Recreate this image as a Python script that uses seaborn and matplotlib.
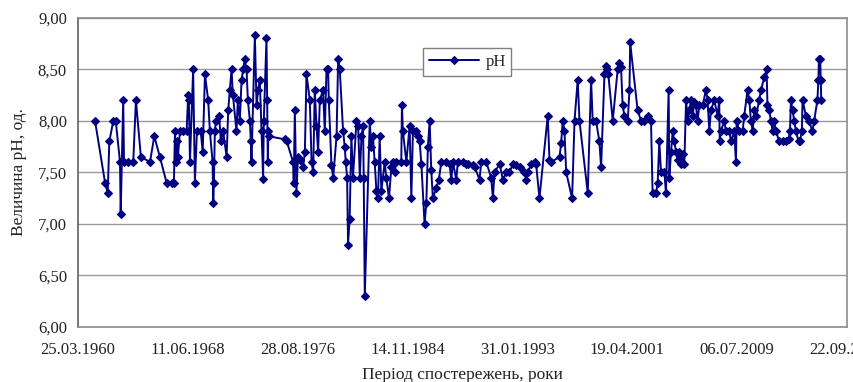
import matplotlib
matplotlib.use("Agg")
import matplotlib.pyplot as plt
import matplotlib.dates as mdates
import seaborn as sns
import pandas as pd
import numpy as np

# ---- data (decimal year of observation, pH value) ----
years = [
    1961.50, 1962.25, 1962.45, 1962.57, 1962.87, 1963.05, 1963.37, 1963.42, 1963.61, 1963.67,
    1963.99, 1964.36, 1964.56, 1964.93, 1965.61, 1965.93, 1966.35, 1966.85, 1967.23, 1967.40,
    1967.48, 1967.55, 1967.63, 1967.70, 1967.85, 1968.07, 1968.35, 1968.47, 1968.52, 1968.60,
    1968.84, 1968.97, 1969.12, 1969.40, 1969.55, 1969.72, 1969.96, 1970.09, 1970.29, 1970.34,
    1970.39, 1970.46, 1970.54, 1970.78, 1970.91, 1971.08, 1971.34, 1971.46, 1971.58, 1971.71,
    1971.81, 1972.08, 1972.18, 1972.33, 1972.46, 1972.58, 1972.70, 1972.83, 1972.93, 1973.08,
    1973.15, 1973.20, 1973.45, 1973.58, 1973.70, 1973.82, 1973.95, 1974.07, 1974.12, 1974.32,
    1974.37, 1974.42, 1974.46, 1974.52, 1975.69, 1975.84, 1976.31, 1976.36, 1976.44, 1976.56,
    1976.68, 1976.81, 1977.06, 1977.19, 1977.31, 1977.56, 1977.69, 1977.81, 1977.93, 1978.06,
    1978.18, 1978.31, 1978.55, 1978.68, 1978.81, 1978.93, 1978.98, 1979.18, 1979.31, 1979.56,
    1979.68, 1979.80, 1980.05, 1980.17, 1980.25, 1980.35, 1980.42, 1980.54, 1980.67, 1980.79,
    1981.05, 1981.17, 1981.30, 1981.42, 1981.54, 1981.59, 1981.67, 1982.04, 1982.16, 1982.28,
    1982.41, 1982.54, 1982.66, 1982.78, 1982.91, 1983.16, 1983.28, 1983.48, 1983.66, 1983.78,
    1983.90, 1984.03, 1984.40, 1984.45, 1984.52, 1984.78, 1985.02, 1985.15, 1985.27, 1985.52,
    1985.64, 1985.77, 1985.90, 1986.14, 1986.27, 1986.39, 1986.52, 1986.64, 1986.76, 1987.02,
    1987.21, 1987.39, 1987.76, 1988.01, 1988.14, 1988.26, 1988.51, 1988.63, 1989.00, 1989.26,
    1989.38, 1989.75, 1989.88, 1990.25, 1990.38, 1990.75, 1991.12, 1991.25, 1991.37, 1991.75,
    1992.00, 1992.25, 1992.49, 1992.74, 1992.99, 1993.24, 1993.61, 1993.74, 1993.86, 1994.11,
    1994.36, 1994.48, 1994.73, 1995.35, 1995.48, 1995.61, 1996.23, 1996.35, 1996.47, 1996.60,
    1996.73, 1997.17, 1997.35, 1997.59, 1997.72, 1998.34, 1998.59, 1998.71, 1998.96, 1999.21,
    1999.34, 1999.59, 1999.71, 1999.81, 1999.88, 2000.21, 2000.58, 2000.71, 2000.83, 2000.95,
    2001.08, 2001.33, 2001.46, 2001.51, 2002.07, 2002.33, 2002.57, 2002.82, 2003.07, 2003.19,
    2003.45, 2003.57, 2003.69, 2003.82, 2004.07, 2004.19, 2004.39, 2004.44, 2004.57, 2004.69,
    2004.81, 2004.94, 2005.06, 2005.19, 2005.31, 2005.43, 2005.56, 2005.69, 2005.81, 2005.93,
    2006.06, 2006.18, 2006.31, 2006.43, 2006.55, 2006.68, 2006.93, 2007.18, 2007.30, 2007.43,
    2007.55, 2007.80, 2008.05, 2008.17, 2008.21, 2008.30, 2008.55, 2008.67, 2008.92, 2009.05,
    2009.29, 2009.42, 2009.47, 2009.67, 2009.92, 2010.04, 2010.29, 2010.42, 2010.54, 2010.67,
    2010.79, 2010.92, 2011.16, 2011.29, 2011.54, 2011.71, 2011.78, 2011.91, 2012.04, 2012.16,
    2012.28, 2012.41, 2012.66, 2012.91, 2013.16, 2013.35, 2013.46, 2013.53, 2013.65, 2013.78,
    2013.90, 2014.10, 2014.20, 2014.35, 2014.40, 2014.65, 2014.88, 2015.14, 2015.27, 2015.51,
    2015.59, 2015.62, 2015.72, 2015.76, 2015.80,
]
ph_values = [
    8.00, 7.40, 7.30, 7.80, 8.00, 8.00, 7.60, 7.10, 8.20, 7.60,
    7.60, 7.60, 8.20, 7.65, 7.60, 7.85, 7.65, 7.40, 7.40, 7.40,
    7.90, 7.60, 7.80, 7.65, 7.90, 7.90, 7.90, 8.25, 8.20, 7.60,
    8.50, 7.40, 7.90, 7.90, 7.70, 8.45, 8.20, 7.90, 7.60, 7.20,
    7.40, 7.90, 8.00, 8.05, 7.80, 7.90, 7.65, 8.10, 8.30, 8.50,
    8.25, 7.90, 8.20, 8.00, 8.40, 8.50, 8.60, 8.50, 8.20, 8.00,
    7.80, 7.60, 8.83, 8.15, 8.30, 8.40, 7.90, 7.44, 8.00, 8.80,
    8.20, 7.60, 7.90, 7.85, 7.82, 7.80, 7.60, 7.40, 8.10, 7.30,
    7.65, 7.62, 7.55, 7.70, 8.45, 8.20, 7.60, 7.50, 8.30, 7.95,
    7.70, 8.20, 8.30, 7.90, 8.50, 8.50, 8.20, 7.57, 7.45, 7.85,
    8.60, 8.50, 7.90, 7.75, 7.60, 7.45, 6.80, 7.05, 7.85, 7.45,
    8.00, 7.95, 7.45, 7.85, 7.95, 7.45, 6.30, 8.00, 7.75, 7.85,
    7.60, 7.32, 7.25, 7.85, 7.32, 7.60, 7.45, 7.25, 7.55, 7.60,
    7.50, 7.60, 7.60, 8.15, 7.90, 7.60, 7.95, 7.25, 7.90, 7.90,
    7.85, 7.80, 7.58, 7.00, 7.20, 7.75, 8.00, 7.52, 7.25, 7.35,
    7.43, 7.60, 7.60, 7.58, 7.43, 7.60, 7.43, 7.60, 7.60, 7.58,
    7.58, 7.57, 7.55, 7.43, 7.60, 7.60, 7.45, 7.25, 7.50, 7.58,
    7.43, 7.50, 7.50, 7.58, 7.57, 7.55, 7.50, 7.43, 7.50, 7.58,
    7.60, 7.58, 7.25, 8.05, 7.62, 7.60, 7.65, 7.78, 8.00, 7.90,
    7.50, 7.25, 8.00, 8.40, 8.00, 7.30, 8.40, 8.00, 8.00, 7.80,
    7.55, 8.45, 8.53, 8.50, 8.45, 8.00, 8.50, 8.56, 8.52, 8.15,
    8.05, 8.00, 8.30, 8.76, 8.10, 8.00, 8.00, 8.05, 8.00, 7.30,
    7.30, 7.40, 7.80, 7.50, 7.50, 7.30, 8.30, 7.45, 7.70, 7.90,
    7.80, 7.70, 7.62, 7.70, 7.58, 7.68, 7.58, 8.20, 8.00, 8.10,
    8.20, 8.05, 8.18, 8.15, 8.00, 8.15, 8.15, 8.30, 8.20, 7.90,
    8.10, 8.20, 8.05, 8.20, 7.80, 7.90, 8.00, 7.90, 7.90, 7.80,
    7.90, 7.60, 8.00, 7.90, 7.90, 8.05, 8.30, 8.20, 8.00, 7.90,
    8.10, 8.05, 8.20, 8.30, 8.42, 8.50, 8.15, 8.10, 8.00, 7.90,
    8.00, 7.90, 7.80, 7.80, 7.80, 7.82, 7.90, 8.20, 8.10, 8.00,
    7.90, 7.80, 7.80, 7.90, 8.20, 8.05, 8.00, 7.90, 8.00, 8.20,
    8.40, 8.60, 8.60, 8.40, 8.20,
]
y_ticks = [6.0, 6.5, 7.0, 7.5, 8.0, 8.5, 9.0]
x_start = "1960-03-25"
x_step_days = 3000
n_x_ticks = 8
series_name = "pH"
x_label = "Період спостережень, роки"
y_label = "Величина pH, од."

# ---- build frame ----
dates = [pd.Timestamp(int(y), 1, 1) + pd.Timedelta(days=(y - int(y)) * 365.25) for y in years]
df = pd.DataFrame({"date": dates, "pH": ph_values})

sns.set_theme(style="white")
plt.rcParams["font.family"] = ["Liberation Serif", "DejaVu Serif"]

fig = plt.figure(figsize=(8.54, 3.82), dpi=100)
ax = fig.add_axes([78 / 854, 1 - 327 / 382, (847 - 78) / 854, (327 - 17.7) / 382])

sns.lineplot(data=df, x="date", y="pH", ax=ax, color="#000080", marker="D",
             markersize=4, markeredgecolor="#000080", markeredgewidth=0.8,
             linewidth=1.4, estimator=None, sort=False, label=series_name)

start = pd.Timestamp(x_start)
xticks = [start + pd.Timedelta(days=k * x_step_days) for k in range(n_x_ticks)]
ax.set_xlim(xticks[0], xticks[-1])
ax.set_xticks(xticks)
ax.xaxis.set_major_formatter(mdates.DateFormatter("%d.%m.%Y"))
ax.set_ylim(y_ticks[0], y_ticks[-1])
ax.set_yticks(y_ticks)
ax.set_yticklabels([f"{v:.2f}".replace(".", ",") for v in y_ticks])

ax.grid(axis="y", color="#9a9a9a", linewidth=1.0)
ax.grid(axis="x", visible=False)
for s in ax.spines.values():
    s.set_color("#8c8c8c")
    s.set_linewidth(1.2)
ax.spines["left"].set_color("#606060")

ax.tick_params(axis="both", direction="out", length=5, width=1, color="#808080",
               labelsize=12, labelcolor="#222222", pad=3)
ax.tick_params(axis="x", pad=6)

ax.set_xlabel(x_label, fontsize=12.5, color="#222222", labelpad=6)
ax.set_ylabel(y_label, fontsize=12.5, color="#222222", labelpad=8)

leg = ax.legend(loc="center", bbox_to_anchor=(0.506, 0.857), fontsize=12,
                frameon=True, fancybox=False, edgecolor="#808080", framealpha=1,
                handlelength=3.0, borderpad=0.35, handletextpad=0.4)
leg.get_frame().set_linewidth(1.0)

fig.savefig("out.png", dpi=100, facecolor="white")
